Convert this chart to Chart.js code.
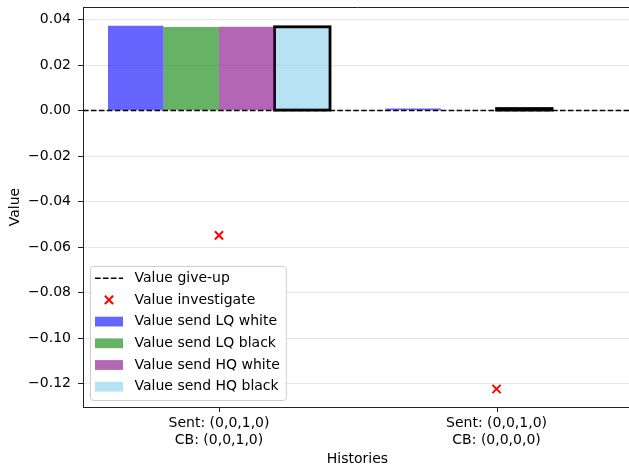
<!DOCTYPE html>
<html><head><meta charset="utf-8">
<script src="https://cdn.jsdelivr.net/npm/chart.js@4/dist/chart.umd.min.js"></script>
<style>html,body{margin:0;padding:0;background:#fff;overflow:hidden;width:629px;height:468px}#wrap{width:632px;height:468px;position:relative}</style>
</head><body><div id="wrap"><canvas id="c"></canvas></div>
<script>
// ---- data ----
const categories = [["Sent: (0,0,1,0)", "CB: (0,0,1,0)"], ["Sent: (0,0,1,0)", "CB: (0,0,0,0)"]];
const giveUp = [0, 0];
const investigate = [-0.0548, -0.1223];
const sendLQWhite = [0.0373, 0.0009];
const sendLQBlack = [0.0367, 0.0003];
const sendHQWhite = [0.0368, 0.0009];
const sendHQBlack = [0.0368, 0.0003];
const bestAction = [3, 2]; // index of the bar series outlined in black, per category
const yTicks = [-0.12, -0.10, -0.08, -0.06, -0.04, -0.02, 0.00, 0.02, 0.04];
const xLimits = [-0.49, 1.488];
const yLimits = [-0.1302, 0.0455];

// ---- styles ----
const seriesNames = ["Value send LQ white", "Value send LQ black", "Value send HQ white", "Value send HQ black"];
const seriesValues = [sendLQWhite, sendLQBlack, sendHQWhite, sendHQBlack];
const seriesColors = ['rgba(0,0,255,0.6)', 'rgba(0,128,0,0.6)', 'rgba(128,0,128,0.6)', 'rgba(135,206,235,0.6)'];
const FONT = 'DejaVu Sans';
const DASH = [5.55, 2.4];

const barDatasets = seriesNames.map((name, s) => ({
  type: 'bar', label: name,
  data: seriesValues[s].map((v, i) => ({x: i, y: v})),
  backgroundColor: seriesColors[s], borderWidth: 0,
  categoryPercentage: 0.8, barPercentage: 1.0, order: 3, seriesIndex: s
}));

const datasets = [
  {type: 'line', label: 'Value give-up',
   data: [{x: xLimits[0], y: giveUp[0]}, {x: xLimits[1], y: giveUp[giveUp.length - 1]}],
   borderColor: '#000', borderWidth: 1.5, borderDash: DASH, pointRadius: 0, order: 1, fill: false},
  {type: 'scatter', label: 'Value investigate',
   data: investigate.map((v, i) => ({x: i, y: v})),
   pointStyle: 'crossRot', pointRadius: 5.8, borderColor: 'rgb(255,0,0)', backgroundColor: 'rgb(255,0,0)',
   pointBorderWidth: 2, borderWidth: 2, order: 0},
  ...barDatasets
];

const edgePlugin = {
  id: 'edges',
  afterDatasetDraw(chart, args) {
    const ds = chart.data.datasets[args.index];
    if (ds.type !== 'bar') return;
    const ctx = chart.ctx, area = chart.chartArea;
    ctx.save();
    ctx.beginPath(); ctx.rect(area.left, area.top, area.right - area.left, area.bottom - area.top); ctx.clip();
    args.meta.data.forEach((el, i) => {
      if (bestAction[i] !== ds.seriesIndex) return;
      const p = el.getProps(['x', 'y', 'base', 'width'], true);
      ctx.strokeStyle = '#000'; ctx.lineWidth = 2.8;
      ctx.strokeRect(p.x - p.width / 2, Math.min(p.y, p.base), p.width, Math.abs(p.base - p.y));
    });
    ctx.restore();
  }
};

const framePlugin = {
  id: 'frame',
  afterDatasetsDraw(chart) {
    const ctx = chart.ctx, a = chart.chartArea;
    const xs = chart.scales.x;
    ctx.save();
    ctx.strokeStyle = '#222'; ctx.lineWidth = 1;
    ctx.beginPath(); ctx.moveTo(a.left, Math.round(a.top) + 0.5); ctx.lineTo(a.right, Math.round(a.top) + 0.5); ctx.stroke();
    categories.forEach((c, i) => {
      const px = Math.round(xs.getPixelForValue(i)) + 0.5;
      ctx.beginPath(); ctx.moveTo(px, a.bottom); ctx.lineTo(px, a.bottom + 5); ctx.stroke();
    });
    ctx.restore();
  }
};

const legendPlugin = {
  id: 'mplLegend',
  afterDraw(chart) {
    const ctx = chart.ctx, a = chart.chartArea;
    const items = chart.data.datasets;
    const fs = 14, rowH = 21.7;
    ctx.save();
    ctx.font = fs + 'px "' + FONT + '"';
    let maxW = 0;
    items.forEach(d => { maxW = Math.max(maxW, ctx.measureText(d.label).width); });
    const left = a.left + 7.5, bottom = a.bottom - 6.5;
    const top = bottom - (items.length - 1) * rowH - 11.8 - 13.8;
    const handleX = left + 4.5, handleW = 28, textX = left + 44;
    const right = textX + maxW + 6.5;
    const r = 3;
    ctx.beginPath();
    ctx.moveTo(left + r, top); ctx.lineTo(right - r, top); ctx.quadraticCurveTo(right, top, right, top + r);
    ctx.lineTo(right, bottom - r); ctx.quadraticCurveTo(right, bottom, right - r, bottom);
    ctx.lineTo(left + r, bottom); ctx.quadraticCurveTo(left, bottom, left, bottom - r);
    ctx.lineTo(left, top + r); ctx.quadraticCurveTo(left, top, left + r, top); ctx.closePath();
    ctx.fillStyle = 'rgba(255,255,255,0.8)'; ctx.fill();
    ctx.strokeStyle = '#cccccc'; ctx.lineWidth = 1; ctx.stroke();
    items.forEach((d, k) => {
      const cy = top + 11.8 + k * rowH;
      if (d.type === 'line') {
        ctx.save(); ctx.setLineDash(DASH); ctx.strokeStyle = '#000'; ctx.lineWidth = 1.5;
        ctx.beginPath(); ctx.moveTo(handleX, cy); ctx.lineTo(handleX + handleW, cy); ctx.stroke(); ctx.restore();
      } else if (d.type === 'scatter') {
        const cx = handleX + handleW / 2, o = 5.8 * Math.SQRT1_2;
        ctx.save(); ctx.strokeStyle = 'rgb(255,0,0)'; ctx.lineWidth = 2;
        ctx.beginPath(); ctx.moveTo(cx - o, cy - o); ctx.lineTo(cx + o, cy + o);
        ctx.moveTo(cx - o, cy + o); ctx.lineTo(cx + o, cy - o); ctx.stroke(); ctx.restore();
      } else {
        ctx.fillStyle = d.backgroundColor;
        ctx.fillRect(handleX, cy - 4.9, handleW, 9.8);
      }
      ctx.fillStyle = '#000'; ctx.textBaseline = 'middle'; ctx.textAlign = 'left';
      ctx.fillText(d.label, textX, cy);
    });
    ctx.restore();
  }
};

const tickFont = {family: FONT, size: 14};

new Chart(document.getElementById('c'), {
  type: 'bar',
  data: {datasets},
  options: {
    responsive: true, maintainAspectRatio: false, animation: false,
    layout: {autoPadding: false, padding: {top: 7, right: 0, left: 0, bottom: 0}},
    plugins: {legend: {display: false}, tooltip: {enabled: false}},
    scales: {
      x: {
        type: 'linear', min: xLimits[0], max: xLimits[1], offset: false,
        afterBuildTicks: s => { s.ticks = categories.map((c, i) => ({value: i})); },
        ticks: {callback: v => categories[Math.round(v)], autoSkip: false, maxRotation: 0, minRotation: 0,
                font: tickFont, color: '#000', padding: 8},
        grid: {display: false, offset: false, drawOnChartArea: false, drawTicks: false},
        border: {display: true, color: '#222', width: 1},
        title: {display: true, text: 'Histories', font: tickFont, color: '#000', padding: {top: 2, bottom: 0}},
        afterFit: s => { s.height = 61; s.paddingLeft = 0; s.paddingRight = 0; }
      },
      y: {
        type: 'linear', min: yLimits[0], max: yLimits[1],
        afterBuildTicks: s => { s.ticks = yTicks.map(v => ({value: v})); },
        ticks: {callback: v => (v < -1e-9 ? '\u2212' : '') + Math.abs(v).toFixed(2), font: tickFont, color: '#000', padding: 7},
        grid: {color: '#e6e6e6', lineWidth: 1, tickColor: '#222', tickLength: 5, tickWidth: 1},
        border: {display: true, color: '#222', width: 1},
        title: {display: true, text: 'Value', font: tickFont, color: '#000', padding: {top: 7, bottom: 0}},
        afterFit: s => { s.width = 83; s.paddingTop = 0; s.paddingBottom = 0; }
      }
    }
  },
  plugins: [edgePlugin, framePlugin, legendPlugin]
});
</script></body></html>
